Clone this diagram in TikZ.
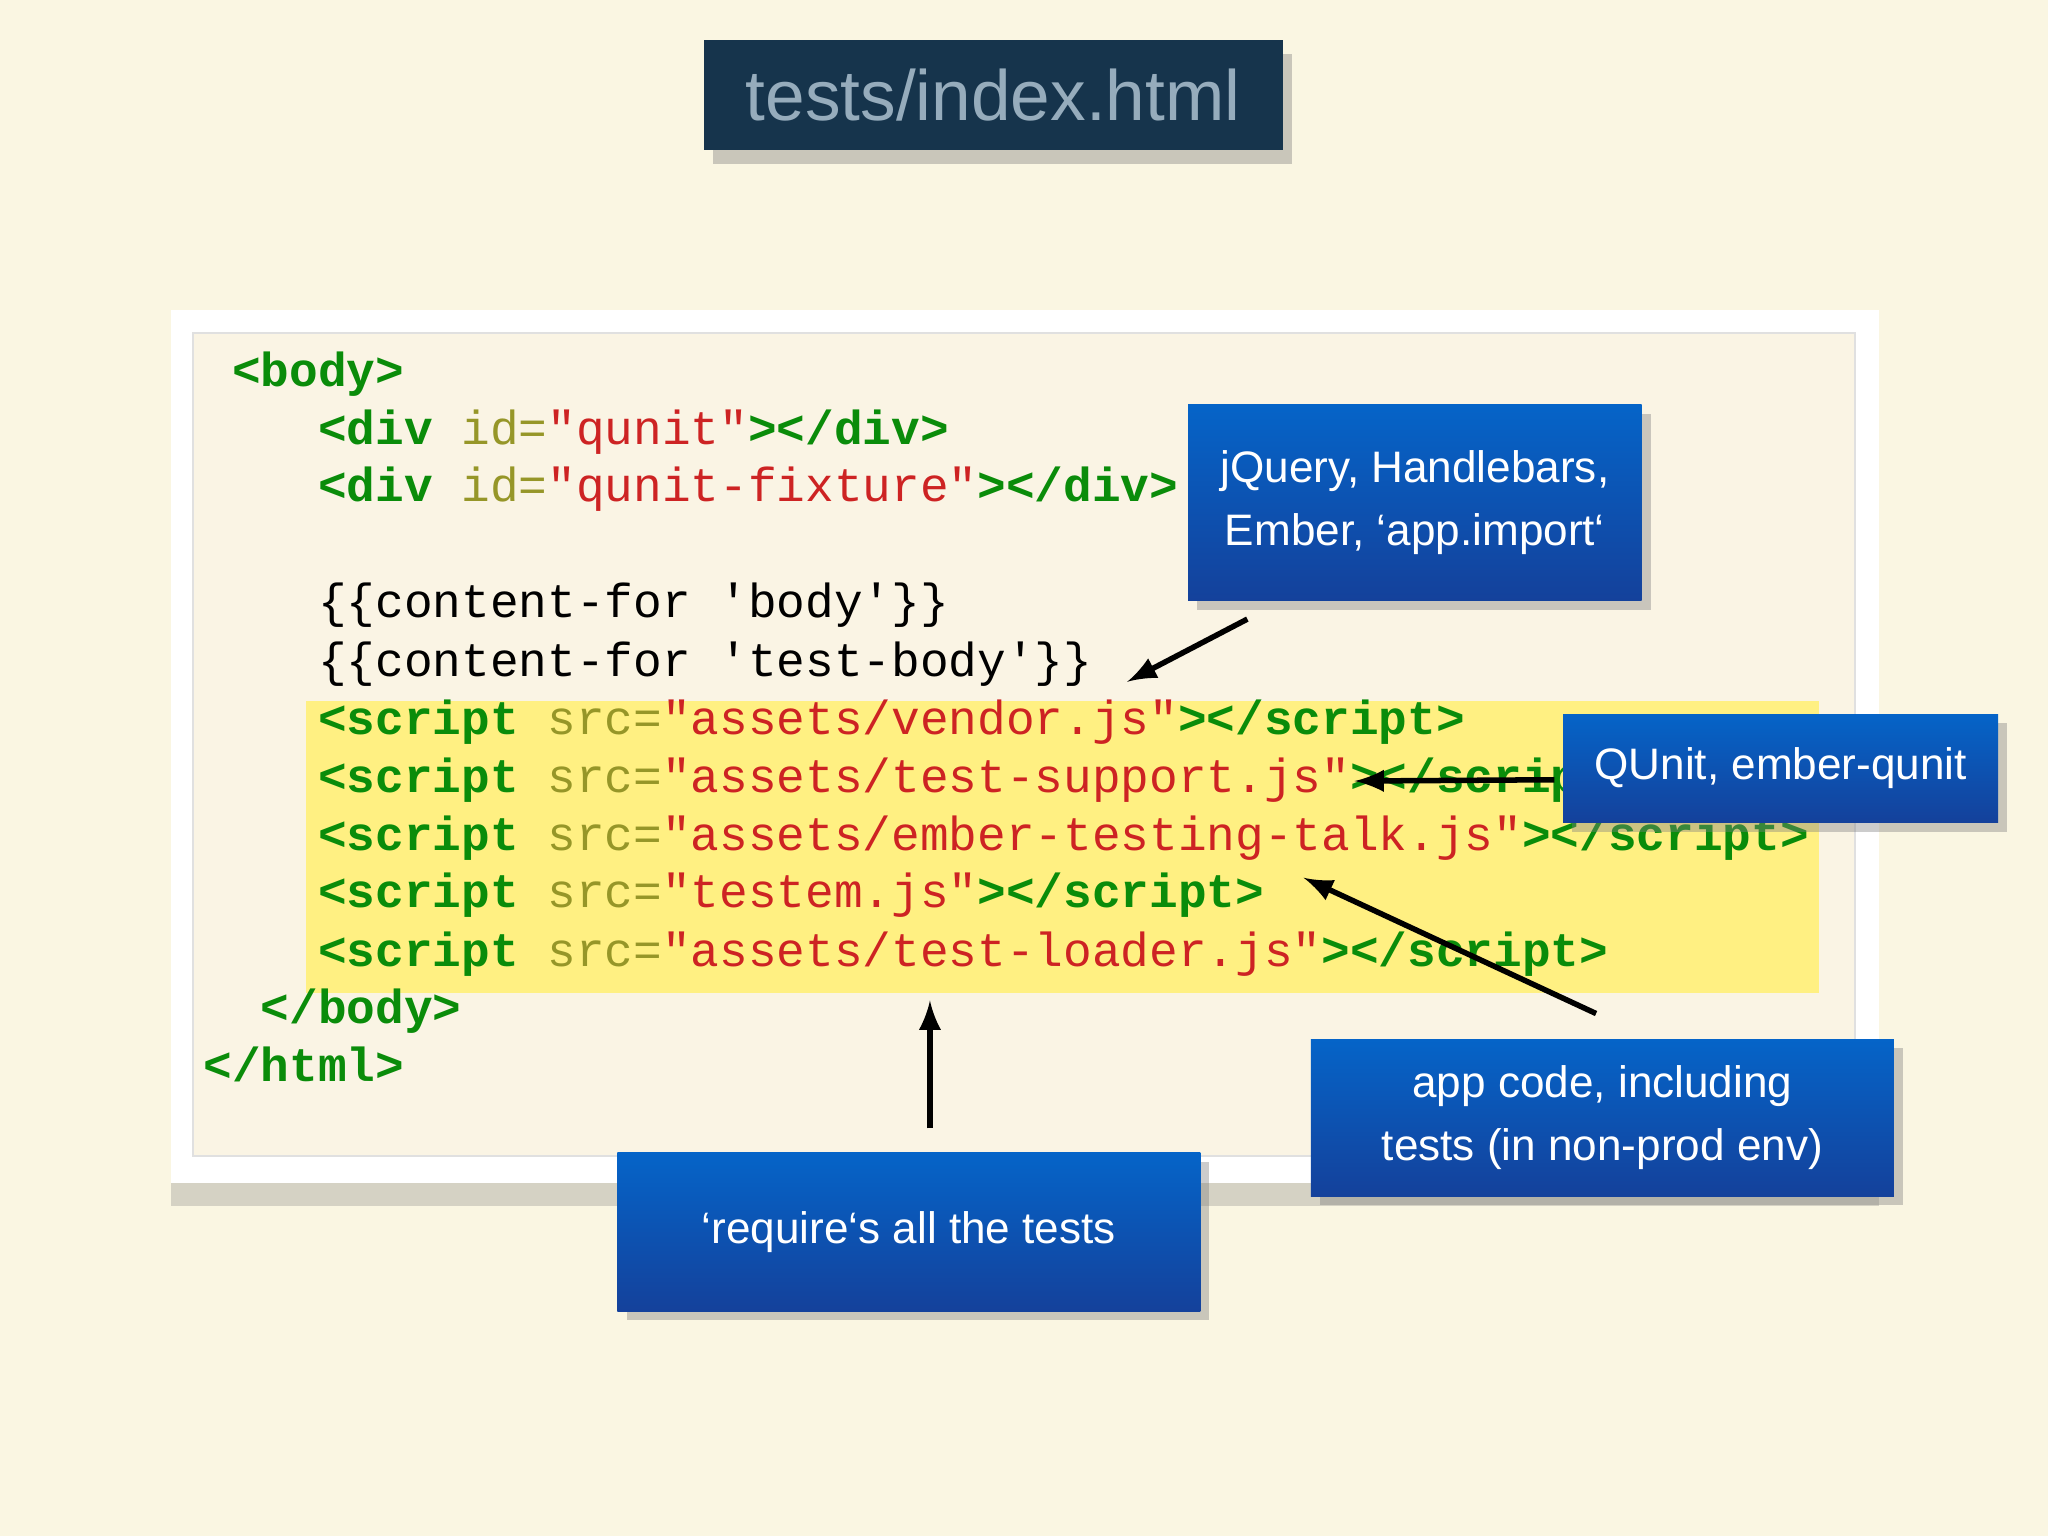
\documentclass[tikz,border=0pt]{standalone}
\usepackage{fontspec}
\setmainfont[Ligatures=NoCommon]{Liberation Sans}
\setmonofont{Liberation Mono}
\usetikzlibrary{shadows}
\definecolor{bg}{RGB}{250,246,226}
\definecolor{tgc}{RGB}{10,140,10}
\definecolor{atc}{RGB}{150,150,40}
\definecolor{stc}{RGB}{205,35,35}
\definecolor{navy}{RGB}{22,52,76}
\definecolor{ttl}{RGB}{150,172,188}
\definecolor{hl}{RGB}{255,240,130}
\definecolor{inner}{RGB}{250,244,228}
\definecolor{btop}{RGB}{5,100,200}
\definecolor{bbot}{RGB}{20,65,155}
\newcommand{\tg}[1]{\textcolor{tgc}{\bfseries #1}}
\newcommand{\atr}[1]{\textcolor{atc}{#1}}
\newcommand{\stri}[1]{\textcolor{stc}{#1}}
\newcommand{\bq}{{\char96}}
\tikzset{
  codeline/.style={anchor=base west,inner sep=0,font=\ttfamily\fontsize{10.4pt}{12pt}\selectfont},
  bluebox/.style={draw=none,top color=btop,bottom color=bbot,text=white,align=center,inner sep=0,anchor=north west,
    font=\fontsize{9.6pt}{13.6pt}\selectfont,drop shadow={opacity=0.4,shadow xshift=2pt,shadow yshift=-2pt}},
  arr/.style={-latex,line width=1.2pt,black}
}
\begin{document}
\begin{tikzpicture}[x=0.01cm,y=-0.01cm]
\fill[bg] (0,0) rectangle (1568,1176);
\useasboundingbox (0,0) rectangle (1568,1176);
% title
\node[fill=navy,minimum width=4.43cm,minimum height=0.84cm,inner sep=0,anchor=north west,text=ttl,
  font=\fontsize{15.5pt}{18pt}\selectfont,drop shadow={opacity=0.4,shadow xshift=2pt,shadow yshift=-3pt}] (title) at (538,30) {tests/index.html};
% frame
\node[fill=white,minimum width=13.07cm,minimum height=6.68cm,inner sep=0,anchor=north west,
  drop shadow={opacity=0.3,shadow xshift=0pt,shadow yshift=-5pt}] (frame) at (130,237) {};
\draw[fill=inner,draw=black!12] (148,255) rectangle (1420,885);
\fill[hl] (234,537) rectangle (1393,760);
% code
\node[codeline] (l1) at (177,296) {\tg{<body>}};
\node[codeline] (l2) at (243,340) {\tg{<div} \atr{id=}\stri{"qunit"}\tg{></div>}};
\node[codeline] (l3) at (243,384) {\tg{<div} \atr{id=}\stri{"qunit-fixture"}\tg{></div>}};
\node[codeline] (l4) at (243,473) {\{\{content-for 'body'\}\}};
\node[codeline] (l5) at (243,518) {\{\{content-for 'test-body'\}\}};
\node[codeline] (l6) at (243,562) {\tg{<script} \atr{src=}\stri{"assets/vendor.js"}\tg{></script>}};
\node[codeline] (l7) at (243,607) {\tg{<script} \atr{src=}\stri{"assets/test-support.js"}\tg{></script>}};
\node[codeline] (l8) at (243,651) {\tg{<script} \atr{src=}\stri{"assets/ember-testing-talk.js"}\tg{></script>}};
\node[codeline] (l9) at (243,695) {\tg{<script} \atr{src=}\stri{"testem.js"}\tg{></script>}};
\node[codeline] (l10) at (243,740) {\tg{<script} \atr{src=}\stri{"assets/test-loader.js"}\tg{></script>}};
\node[codeline] (l11) at (199,784) {\tg{</body>}};
\node[codeline] (l12) at (155,828) {\tg{</html>}};
% boxes
\node[bluebox,minimum width=3.47cm,minimum height=1.5cm] (jq) at (909,309)
  {jQuery, Handlebars,\\Ember, \bq app.import\bq};
\node[bluebox,minimum width=3.33cm,minimum height=0.83cm] (qu) at (1196,546)
  {QUnit, ember-qunit};
\node[bluebox,minimum width=4.46cm,minimum height=1.2cm] (ap) at (1003,795)
  {app code, including\\tests (in non-prod env)};
\node[bluebox,minimum width=4.46cm,minimum height=1.21cm] (rq) at (472,882)
  {\bq require\bq s all the tests};
% arrows
\coordinate (a1s) at (955,474); \coordinate (a1e) at (863,522);
\coordinate (a2s) at (1190,597); \coordinate (a2e) at (1037,598);
\coordinate (a3s) at (1222,776); \coordinate (a3e) at (998,672);
\coordinate (a4s) at (712,864); \coordinate (a4e) at (712,766);
\draw[arr] (a1s) -- (a1e);
\draw[arr] (a2s) -- (a2e);
\draw[arr] (a3s) -- (a3e);
\draw[arr] (a4s) -- (a4e);
\end{tikzpicture}
\end{document}
